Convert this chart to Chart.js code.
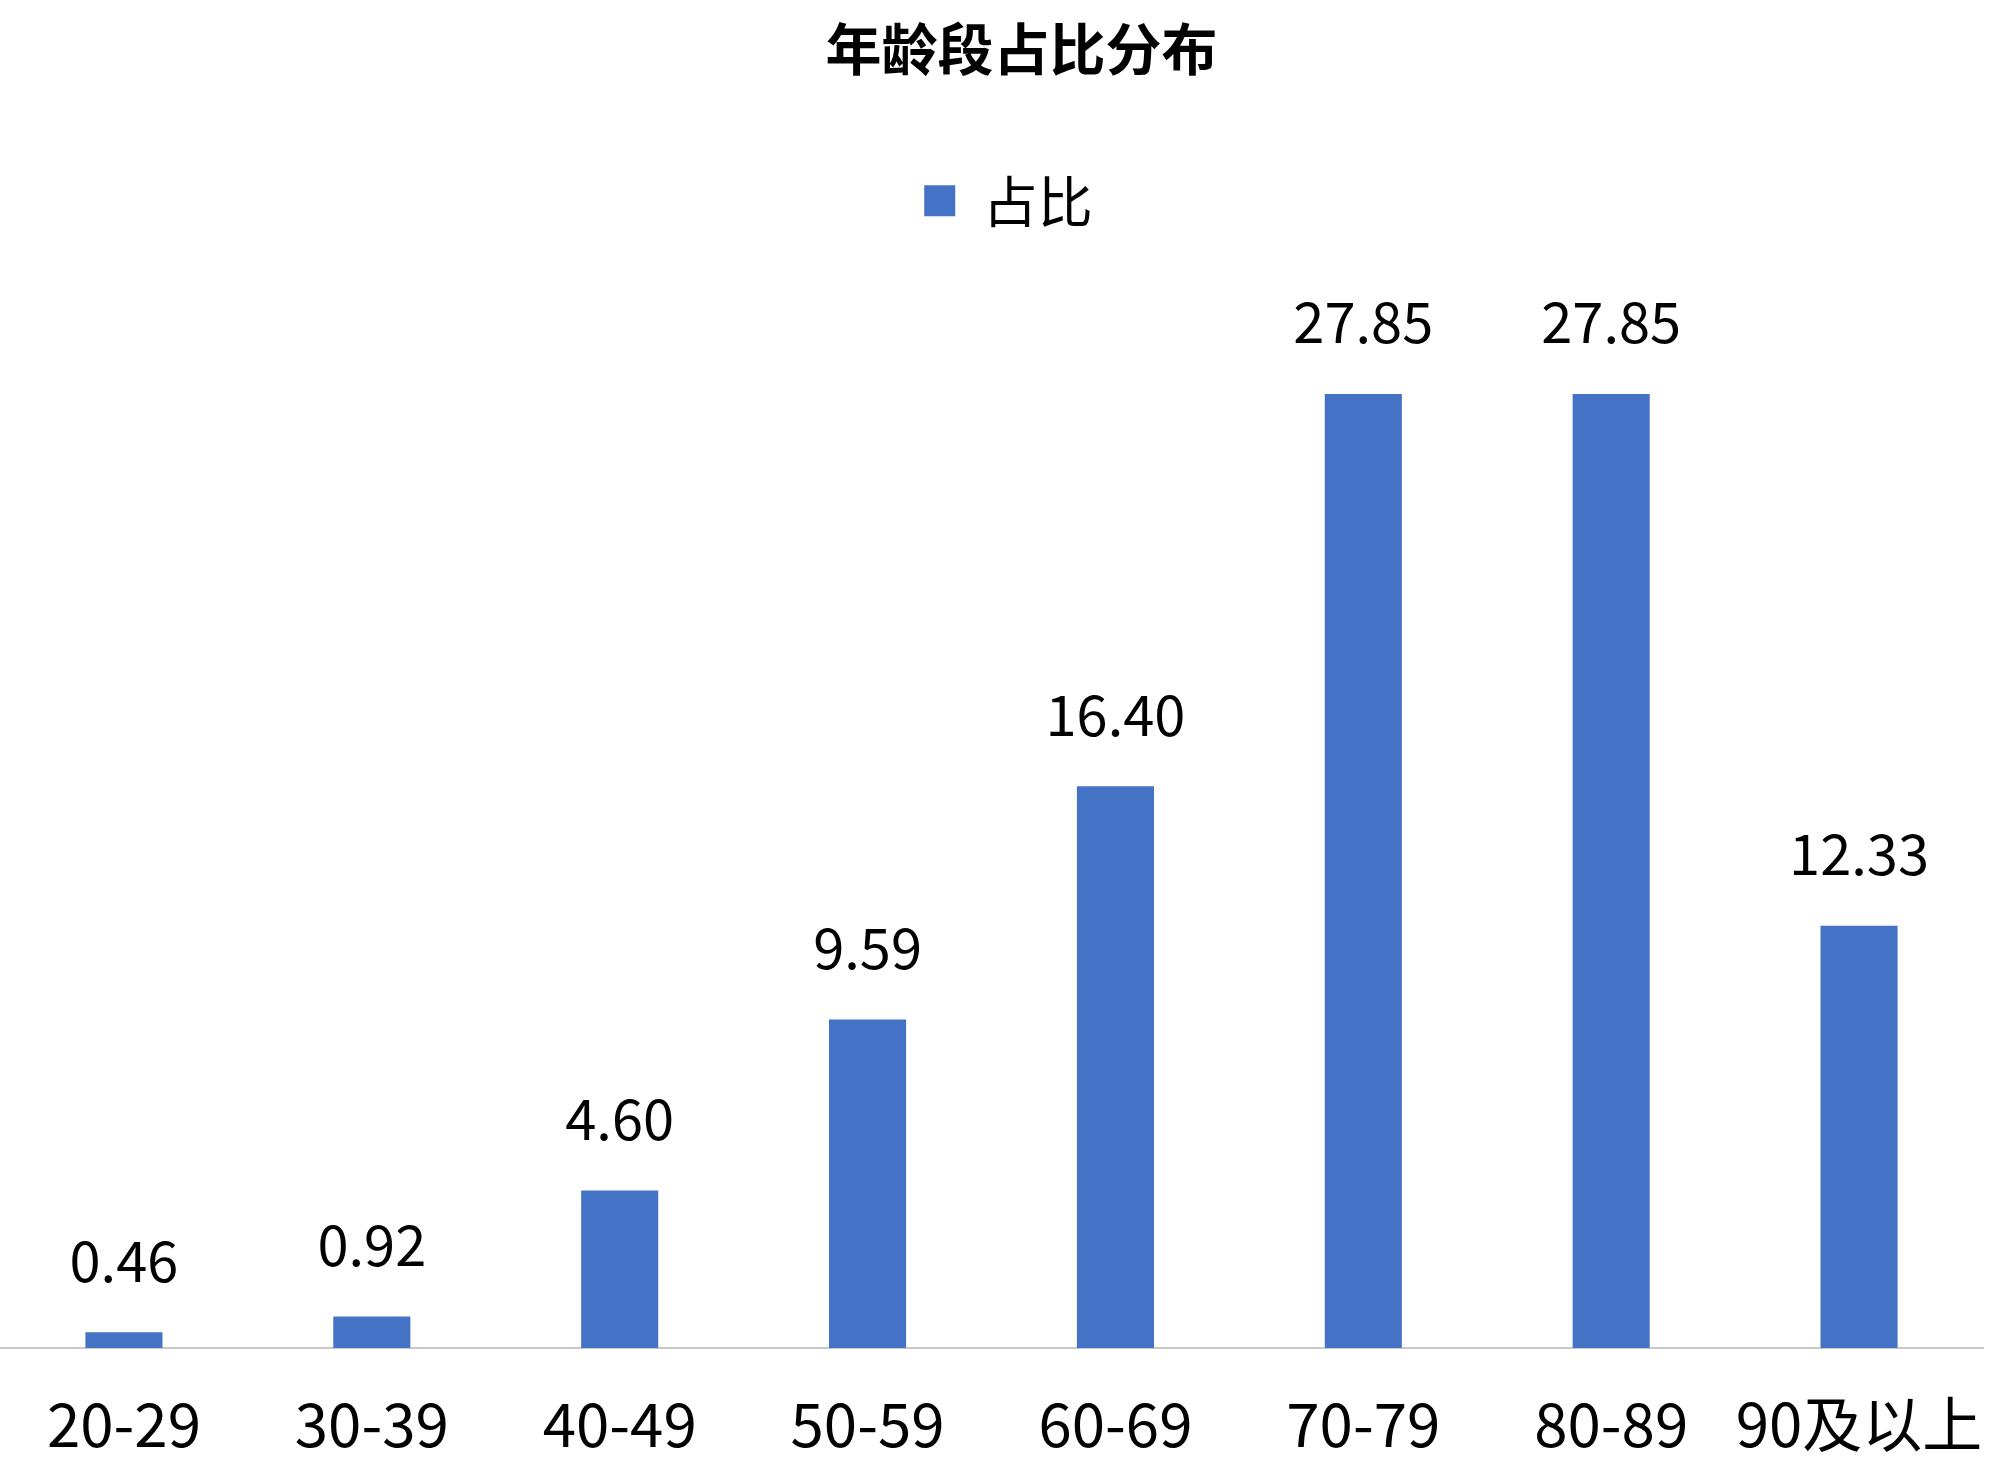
<!DOCTYPE html>
<html>
<head>
<meta charset="utf-8">
<script src="https://cdn.jsdelivr.net/npm/chart.js@4.4.1/dist/chart.umd.min.js"></script>
<style>
  html, body { margin: 0; padding: 0; background: #ffffff; overflow: hidden; }
  canvas { display: block; }
</style>
</head>
<body>
<canvas id="c" width="2000" height="1480" style="width:2000px;height:1480px"></canvas>
<script>
const categories = ['20-29', '30-39', '40-49', '50-59', '60-69', '70-79', '80-89', '90及以上'];
const shareValues = [0.46, 0.92, 4.60, 9.59, 16.40, 27.85, 27.85, 12.33];
const seriesName = '占比';
const chartTitle = '年龄段占比分布';

const FONT = "'Noto Sans CJK SC', 'Microsoft YaHei', sans-serif";

const valueLabels = {
  id: 'valueLabels',
  afterDatasetsDraw(chart) {
    const ctx = chart.ctx;
    const meta = chart.getDatasetMeta(0);
    ctx.save();
    ctx.font = '56px ' + FONT;
    ctx.fillStyle = '#000000';
    ctx.textAlign = 'center';
    ctx.textBaseline = 'middle';
    meta.data.forEach((bar, i) => {
      ctx.fillText(shareValues[i].toFixed(2), bar.x, bar.y - 72);
    });
    ctx.restore();
  }
};

// nudge title and legend horizontally to match the original placement
const headerShift = {
  id: 'headerShift',
  afterLayout(chart) {
    if (chart.titleBlock) { chart.titleBlock.left += 30; chart.titleBlock.right += 30; }
    if (chart.legend) { chart.legend.left += 17; chart.legend.right += 17; }
  }
};

new Chart(document.getElementById('c'), {
  type: 'bar',
  data: {
    labels: categories,
    datasets: [{
      label: seriesName,
      data: shareValues,
      backgroundColor: '#4472C4',
      borderWidth: 0,
      categoryPercentage: 1.0,
      barPercentage: 0.311
    }]
  },
  options: {
    responsive: false,
    maintainAspectRatio: false,
    animation: false,
    devicePixelRatio: 1,
    layout: { padding: { left: 0, right: 17, top: 0, bottom: 20 } },
    plugins: {
      title: {
        display: true,
        text: chartTitle,
        color: '#000000',
        font: { family: FONT, size: 56, weight: 'bold', lineHeight: 1.2 },
        padding: { top: 15, bottom: 71 }
      },
      legend: {
        display: true,
        position: 'top',
        labels: {
          color: '#000000',
          font: { family: FONT, size: 55 },
          boxWidth: 31,
          boxHeight: 31,
          padding: 20
        }
      },
      tooltip: { enabled: false }
    },
    scales: {
      x: {
        grid: { display: false, drawTicks: false },
        border: { display: true, color: '#c8c8c8', width: 2, dash: [2, 2] },
        ticks: {
          color: '#000000',
          font: { family: FONT, size: 60, lineHeight: 1.2 },
          padding: 40,
          maxRotation: 0,
          autoSkip: false
        },
        afterFit(scale) {
          scale.height = 112;
          scale.paddingRight = 0;
          scale.paddingLeft = 0;
        }
      },
      y: {
        display: false,
        min: 0,
        max: 32.4
      }
    }
  },
  plugins: [valueLabels, headerShift]
});
</script>
</body>
</html>
